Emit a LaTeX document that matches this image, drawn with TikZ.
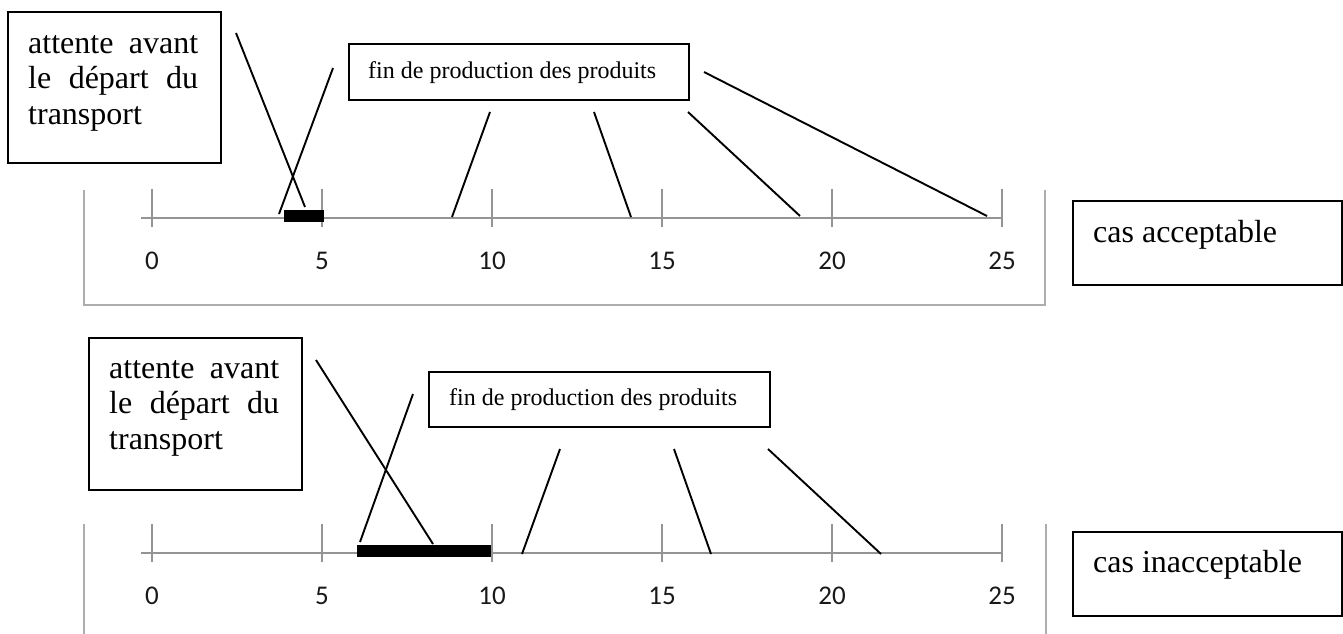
\documentclass[tikz,border=0pt]{standalone}
\usepackage{fontspec}
\setmainfont{Liberation Serif}
\newfontfamily\numfont{Carlito}
\begin{document}
\begin{tikzpicture}[x=1pt,y=-1pt,
  box/.style={draw=black, line width=1.8pt, inner sep=0pt, anchor=north west},
  big/.style={font=\fontsize{32}{35.5}\selectfont, inner sep=0pt, anchor=base west, text width=170pt, align=left},
  small/.style={font=\fontsize{24}{28}\selectfont, inner sep=0pt, anchor=base west},
  casfont/.style={font=\fontsize{32}{35.5}\selectfont, inner sep=0pt, anchor=base west},
  num/.style={font=\numfont\fontsize{27}{30}\selectfont, text=black!90, inner sep=0pt, anchor=center},
  axisline/.style={draw=black!42, line width=1.8pt},
  frameline/.style={draw=black!32, line width=1.6pt},
  lead/.style={draw=black, line width=1.9pt},
  barfill/.style={fill=black}]
\useasboundingbox (0,0) rectangle (1343,634);

% ---------- top panel ----------
\draw[frameline] (84,190) -- (84,305) -- (1045,305) -- (1045,190);
\draw[axisline] (141,218) -- (1002,218);
\foreach \t in {0,5,...,25} {
  \draw[axisline] (152+34*\t,189) -- (152+34*\t,227);
  \node[num] (ta\t) at (152+34*\t,261) {\t};
}
\fill[barfill] (284,210) rectangle (324,222);

\node[box, minimum width=213pt, minimum height=151pt] (att1) at (7,11) {};
\node[big] (att1t) at (28,53) {\makebox[170pt][l]{attente\hfill avant}\\\makebox[170pt][l]{le\hfill départ\hfill du}\\transport};

\node[box, minimum width=340pt, minimum height=56pt] (fin1) at (348,43) {};
\node[small] (fin1t) at (368,78) {fin de production des produits};

\node[box, minimum width=269pt, minimum height=84pt] (cas1) at (1072,200) {};
\node[casfont] (cas1t) at (1093,242) {cas acceptable};

\coordinate (a1s) at (236,33);  \coordinate (a1e) at (305,207);
\coordinate (a2s) at (333,68);  \coordinate (a2e) at (279,214);
\coordinate (f1s) at (490,112); \coordinate (f1e) at (452,217);
\coordinate (f2s) at (594,112); \coordinate (f2e) at (631,217);
\coordinate (f3s) at (688,112); \coordinate (f3e) at (800,216);
\coordinate (f4s) at (704,72);  \coordinate (f4e) at (987,216);
\foreach \p in {a1,a2,f1,f2,f3,f4} { \draw[lead] (\p s) -- (\p e); }

% ---------- bottom panel ----------
\draw[frameline] (84,524) -- (84,634);
\draw[frameline] (1046,524) -- (1046,634);
\draw[axisline] (141,553) -- (1002,553);
\foreach \t in {0,5,...,25} {
  \draw[axisline] (152+34*\t,524) -- (152+34*\t,562);
  \node[num] (tb\t) at (152+34*\t,596) {\t};
}
\fill[barfill] (357,545) rectangle (491,557);

\node[box, minimum width=213pt, minimum height=152pt] (att2) at (88,337) {};
\node[big] (att2t) at (109,378) {\makebox[170pt][l]{attente\hfill avant}\\\makebox[170pt][l]{le\hfill départ\hfill du}\\transport};

\node[box, minimum width=341pt, minimum height=55pt] (fin2) at (428,371) {};
\node[small] (fin2t) at (449,405) {fin de production des produits};

\node[box, minimum width=269pt, minimum height=84pt] (cas2) at (1072,531) {};
\node[casfont] (cas2t) at (1093,572) {cas inacceptable};

\coordinate (b1s) at (316,360); \coordinate (b1e) at (433,544);
\coordinate (b2s) at (413,394); \coordinate (b2e) at (360,542);
\coordinate (g1s) at (560,449); \coordinate (g1e) at (522,554);
\coordinate (g2s) at (674,449); \coordinate (g2e) at (711,554);
\coordinate (g3s) at (768,449); \coordinate (g3e) at (881,554);
\foreach \p in {b1,b2,g1,g2,g3} { \draw[lead] (\p s) -- (\p e); }
\end{tikzpicture}
\end{document}
